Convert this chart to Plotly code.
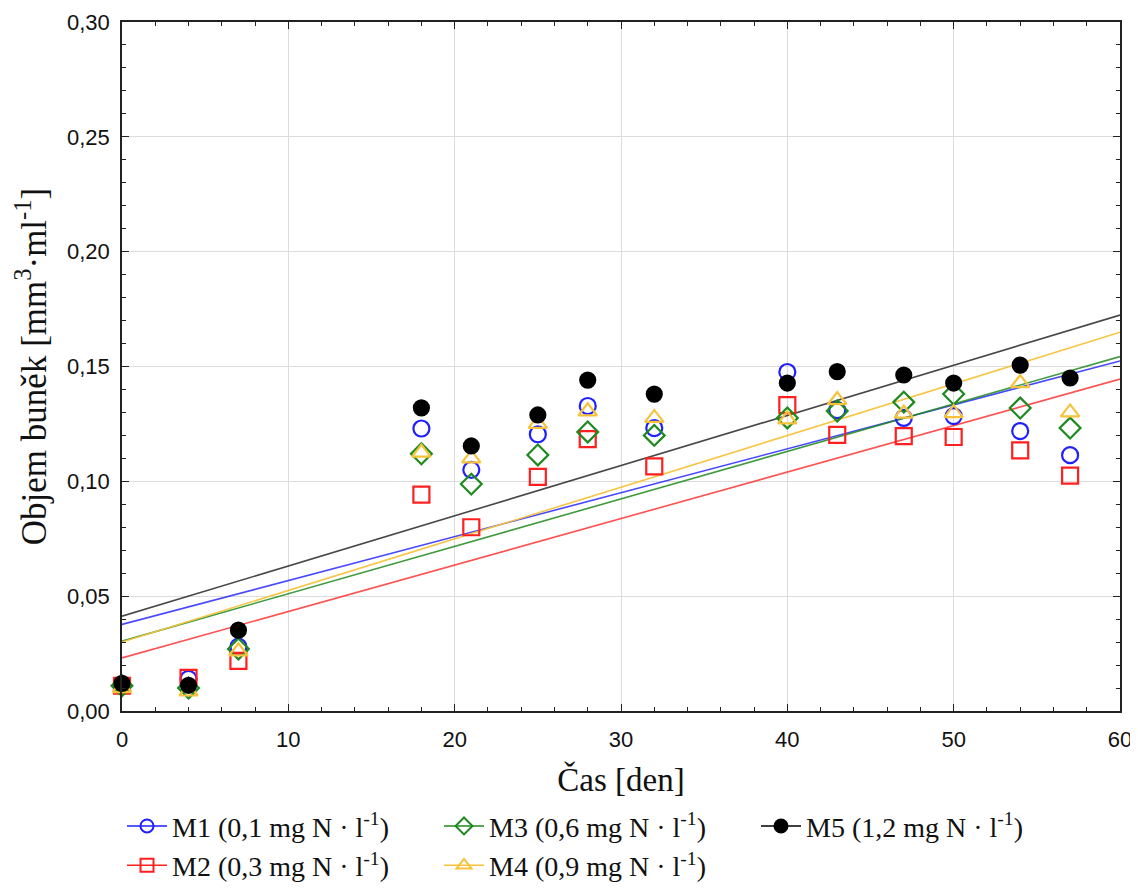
import plotly.graph_objects as go

days = [0, 4, 7, 18, 21, 25, 28, 32, 40, 43, 47, 50, 54, 57]

series_names = [
    "M1 (0,1 mg N · l<sup>-1</sup>)",
    "M2 (0,3 mg N · l<sup>-1</sup>)",
    "M3 (0,6 mg N · l<sup>-1</sup>)",
    "M4 (0,9 mg N · l<sup>-1</sup>)",
    "M5 (1,2 mg N · l<sup>-1</sup>)",
]

m1 = [0.011, 0.014, 0.028, 0.123, 0.105, 0.1205, 0.1328, 0.1232, 0.1476, 0.131, 0.1276, 0.1284, 0.1219, 0.1114]
m2 = [0.011, 0.0144, 0.0218, 0.0942, 0.080, 0.1019, 0.1184, 0.1065, 0.1332, 0.1202, 0.1197, 0.1193, 0.1135, 0.1025]
m3 = [0.011, 0.010, 0.027, 0.112, 0.0988, 0.1115, 0.1215, 0.120, 0.1276, 0.1306, 0.1345, 0.138, 0.1319, 0.1232]
m4 = [0.010, 0.0085, 0.026, 0.1125, 0.110, 0.125, 0.1305, 0.1276, 0.127, 0.1354, 0.1295, 0.1297, 0.1428, 0.130]
m5 = [0.012, 0.0112, 0.0352, 0.132, 0.1154, 0.1289, 0.1441, 0.138, 0.1428, 0.1478, 0.1463, 0.1428, 0.1506, 0.145]
series_values = [m1, m2, m3, m4, m5]

# linear-trend lines: value at day 0 and at day 60
fit_x = [0, 60]
fit_at_0 = [0.0377, 0.0231, 0.0304, 0.0300, 0.0413]
fit_at_60 = [0.1524, 0.1445, 0.1543, 0.1649, 0.1724]

colors = ["#1f1fff", "#ff1f1f", "#1e8a1e", "#f7c23a", "#000000"]
line_colors = ["rgba(40,40,255,0.85)", "rgba(255,50,50,0.85)", "rgba(30,138,30,0.85)",
               "rgba(247,194,58,0.95)", "rgba(40,40,40,0.85)"]
symbols = ["circle-open", "square-open", "diamond-open", "triangle-up-open", "circle"]
sizes = [16, 16, 16, 16, 15]
legend_rank = [1, 4, 2, 5, 3]

x_ticks = [0, 10, 20, 30, 40, 50, 60]
y_ticks = [0.0, 0.05, 0.10, 0.15, 0.20, 0.25, 0.30]

fig = go.Figure()

# trend lines
for i in range(5):
    fig.add_trace(go.Scatter(
        x=fit_x, y=[fit_at_0[i], fit_at_60[i]], mode="lines",
        line=dict(color=line_colors[i], width=1.6),
        showlegend=False, hoverinfo="skip", cliponaxis=True))

# data points
for i in range(5):
    fig.add_trace(go.Scatter(
        x=days, y=series_values[i], mode="markers",
        marker=dict(symbol=symbols[i], size=sizes[i], color=colors[i],
                    line=dict(color=colors[i], width=2.2)),
        showlegend=False, cliponaxis=False))

# legend entries (line + marker)
for i in range(5):
    fig.add_trace(go.Scatter(
        x=[None], y=[None], mode="lines+markers", name=series_names[i],
        line=dict(color=colors[i], width=1.5),
        marker=dict(symbol=symbols[i], size=13, color=colors[i],
                    line=dict(color=colors[i], width=2)),
        legendrank=legend_rank[i]))

axis_common = dict(
    showline=True, linecolor="#222222", linewidth=1.5, mirror="ticks",
    ticks="inside", ticklen=7, tickcolor="#222222", tickwidth=1,
    showgrid=True, gridcolor="#dcdcdc", gridwidth=1, zeroline=False,
    tickfont=dict(family="Liberation Sans, Arial", size=22, color="#111111"),
    automargin=False,
)

fig.update_xaxes(
    range=[0, 60], tickvals=x_ticks, ticktext=[str(v) for v in x_ticks],
    ticklabelstandoff=8,
    minor=dict(dtick=2, tick0=0, ticks="inside", ticklen=4, tickcolor="#222222", showgrid=False),
    title=dict(text="Čas [den]", font=dict(family="Liberation Serif, Times New Roman", size=33, color="#111111"), standoff=17),
    **axis_common)
fig.update_yaxes(
    range=[0, 0.30], tickvals=y_ticks, tickformat=".2f",
    ticklabelstandoff=6,
    minor=dict(dtick=0.01, tick0=0, ticks="inside", ticklen=4, tickcolor="#222222", showgrid=False),
    title=dict(text="Objem buněk [mm<sup>3</sup>·ml<sup>-1</sup>]", font=dict(family="Liberation Serif, Times New Roman", size=35, color="#111111"), standoff=10),
    **axis_common)

fig.update_layout(
    width=1130, height=882,
    margin=dict(l=114, r=18, t=14, b=179, autoexpand=False),
    plot_bgcolor="white", paper_bgcolor="white",
    separators=",.",
    legend=dict(orientation="h", x=0.0, xanchor="left", y=-0.131, yanchor="top",
                entrywidth=262, entrywidthmode="pixels", tracegroupgap=0,
                font=dict(family="Liberation Serif, Times New Roman", size=28, color="#111111"),
                itemwidth=40, bgcolor="rgba(0,0,0,0)"),
)

fig.write_html("out.html")
